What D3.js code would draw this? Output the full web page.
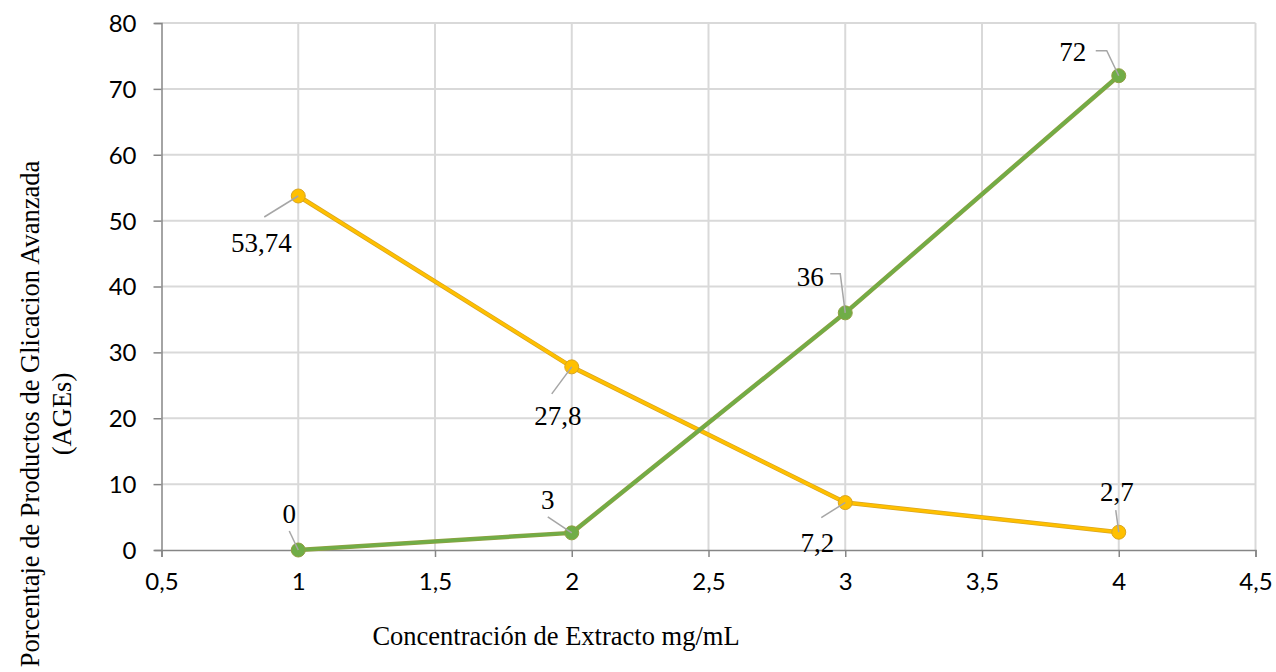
<!DOCTYPE html>
<html><head><meta charset="utf-8">
<script src="https://cdn.jsdelivr.net/npm/d3@7"></script>
<style>body{margin:0;background:#fff}svg{display:block}</style>
</head><body>
<svg id="c" width="1276" height="672"></svg>
<script>
const concentrations = [1, 2, 3, 4];
const yellowValues = [53.74, 27.8, 7.2, 2.7];
const yellowLabels = ["53,74", "27,8", "7,2", "2,7"];
const greenValues = [0, 2.6, 36, 72];
const greenLabels = ["0", "3", "36", "72"];
const xTicks = [0.5, 1, 1.5, 2, 2.5, 3, 3.5, 4, 4.5];
const yTicks = [0, 10, 20, 30, 40, 50, 60, 70, 80];
const xTitle = "Concentración de Extracto mg/mL";
const yTitle = ["Porcentaje de Productos de Glicacion Avanzada", "(AGEs)"];

// label layout: text centre offset and leader path points relative to point
const yellowLayout = [
  {tx:-37, ty:47, lead:[[-34,21],[0,0]]},
  {tx:-14, ty:49, lead:[[-20,27],[0,0]]},
  {tx:-28, ty:40, lead:[[-24,15],[0,0]]},
  {tx:-2, ty:-41, lead:[[-3,-22],[0,0]]}
];
const greenLayout = [
  {tx:-9, ty:-36, lead:[[-9,-19],[0,0]]},
  {tx:-24, ty:-33, lead:[[-24,-16],[0,0]]},
  {tx:-35, ty:-36, lead:[[-15,-39],[-5,-39],[0,0]]},
  {tx:-46, ty:-24, lead:[[-23,-25],[-12,-25],[0,0]]}
];

const svg = d3.select("#c");
const L = 161.5, R = 1255.5, T = 23, B = 550;
const x = d3.scaleLinear().domain([0.5, 4.5]).range([L, R]);
const y = d3.scaleLinear().domain([0, 80]).range([B, T]);

svg.append("g").selectAll("line").data(xTicks.slice(1)).join("line")
  .attr("x1", d => x(d)).attr("x2", d => x(d)).attr("y1", T).attr("y2", B)
  .attr("stroke", "#d9d9d9").attr("stroke-width", 2);
svg.append("g").selectAll("line").data(yTicks.slice(1)).join("line")
  .attr("x1", L).attr("x2", R).attr("y1", d => y(d)).attr("y2", d => y(d))
  .attr("stroke", "#d9d9d9").attr("stroke-width", 2);

const xAxis = svg.append("g").attr("transform", `translate(0,${B})`)
  .call(d3.axisBottom(x).tickValues(xTicks).tickSize(7).tickPadding(16)
    .tickFormat(d => String(d).replace(".", ",")));
const yAxis = svg.append("g").attr("transform", `translate(${L},0)`)
  .call(d3.axisLeft(y).tickValues(yTicks).tickSize(7).tickPadding(17));
[xAxis, yAxis].forEach(a => {
  a.select(".domain").attr("stroke", "#868686").attr("stroke-width", 1.5);
  a.selectAll(".tick line").attr("stroke", "#868686").attr("stroke-width", 1.5);
  a.selectAll(".tick text").attr("fill", "#000")
    .style("font-family", "Lato, 'Open Sans', sans-serif").style("font-size", "24px");
});
yAxis.selectAll(".tick line").attr("x2", -8);
yAxis.selectAll(".tick text").attr("dy", "0.35em").attr("x", -25);

const line = d3.line().x(d => x(d[0])).y(d => y(d[1]));
function drawSeries(vals, color, edge) {
  const pts = concentrations.map((c, i) => [c, vals[i]]);
  const g = svg.append("g");
  g.append("path").datum(pts).attr("d", line).attr("fill", "none")
    .attr("stroke", edge).attr("stroke-width", 4.5).attr("stroke-linejoin", "round");
  g.append("path").datum(pts).attr("d", line).attr("fill", "none")
    .attr("stroke", color).attr("stroke-width", 3).attr("stroke-linejoin", "round");
  g.selectAll("circle").data(pts).join("circle")
    .attr("cx", d => x(d[0])).attr("cy", d => y(d[1])).attr("r", 7)
    .attr("fill", color).attr("stroke", edge).attr("stroke-width", 1);
  return pts;
}
function drawLabels(pts, labels, layout) {
  const g = svg.append("g");
  pts.forEach((p, i) => {
    const px = x(p[0]), py = y(p[1]), lay = layout[i];
    g.append("polyline")
      .attr("points", lay.lead.map(q => [px + q[0], py + q[1]].join(",")).join(" "))
      .attr("fill", "none").attr("stroke", "#a6a6a6").attr("stroke-width", 1.5);
    g.append("text").attr("x", px + lay.tx).attr("y", py + lay.ty)
      .attr("text-anchor", "middle").attr("dy", "0.35em")
      .style("font-family", "'Liberation Serif', 'Times New Roman', serif")
      .style("font-size", "27px").text(labels[i]);
  });
}
const yPts = drawSeries(yellowValues, "#FFC000", "#D9A520");
const gPts = drawSeries(greenValues, "#70AD47", "#8FA040");
drawLabels(yPts, yellowLabels, yellowLayout);
drawLabels(gPts, greenLabels, greenLayout);

svg.append("text").attr("x", 556).attr("y", 636).attr("text-anchor", "middle")
  .attr("dy", "0.35em")
  .style("font-family", "'Liberation Serif', 'Times New Roman', serif")
  .style("font-size", "26.5px").text(xTitle);
const yt = svg.append("text").attr("transform", "translate(46,414) rotate(-90)")
  .attr("text-anchor", "middle")
  .style("font-family", "'Liberation Serif', 'Times New Roman', serif")
  .style("font-size", "26.5px");
yt.append("tspan").attr("x", 0).attr("y", -16).attr("dy", "0.35em").text(yTitle[0]);
yt.append("tspan").attr("x", 0).attr("y", 16).attr("dy", "0.35em").text(yTitle[1]);
</script>
</body></html>
